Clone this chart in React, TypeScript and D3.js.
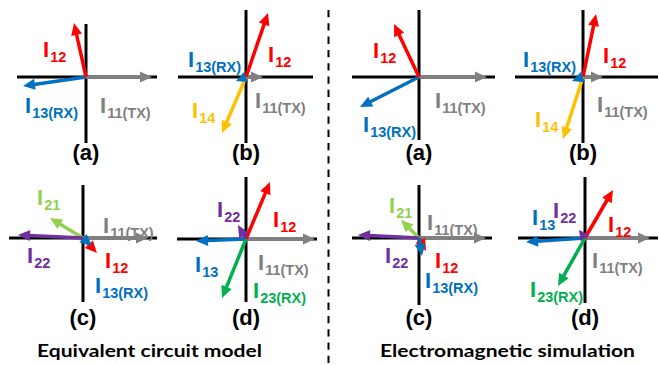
import React, { useEffect, useRef } from 'react';
import * as d3 from 'd3';

// phasor endpoints, relative to each panel origin (x right, y up), unit = 10 px
const panelIds = ['a1', 'b1', 'c1', 'd1', 'a2', 'b2', 'c2', 'd2'];
const panelLetters = ['(a)', '(b)', '(c)', '(d)', '(a)', '(b)', '(c)', '(d)'];

const vecA1 = [
  { name: 'I11', dx: 6.6, dy: 0 },
  { name: 'I13', dx: -6.3, dy: -0.9 },
  { name: 'I12', dx: -1.2, dy: 5.4 },
];
const vecB1 = [
  { name: 'I11', dx: 1.7, dy: 0 },
  { name: 'I12', dx: 2.2, dy: 6.4 },
  { name: 'I14', dx: -2.4, dy: -5.6 },
  { name: 'I13', dx: -1.0, dy: -0.4 },
];
const vecC1 = [
  { name: 'I11', dx: 6.5, dy: 0 },
  { name: 'I21', dx: -3.3, dy: 2.0 },
  { name: 'I22', dx: -6.5, dy: 0.3 },
  { name: 'I12', dx: 1.4, dy: -1.5 },
  { name: 'I13', dx: 0.9, dy: -0.8 },
];
const vecD1 = [
  { name: 'I11', dx: 6.9, dy: 0 },
  { name: 'I12', dx: 2.4, dy: 5.7 },
  { name: 'I13', dx: -5.0, dy: -0.2 },
  { name: 'I23', dx: -2.4, dy: -5.9 },
  { name: 'I22', dx: -0.8, dy: 1.4 },
];
const vecA2 = [
  { name: 'I11', dx: 6.8, dy: 0 },
  { name: 'I13', dx: -5.9, dy: -3.0 },
  { name: 'I12', dx: -2.5, dy: 5.3 },
];
const vecB2 = [
  { name: 'I11', dx: 2.0, dy: 0 },
  { name: 'I12', dx: 1.3, dy: 6.3 },
  { name: 'I14', dx: -2.0, dy: -6.2 },
  { name: 'I13', dx: -1.1, dy: -0.4 },
];
const vecC2 = [
  { name: 'I11', dx: 6.7, dy: 0 },
  { name: 'I21', dx: -1.8, dy: 1.8 },
  { name: 'I22', dx: -6.1, dy: 0.3 },
  { name: 'I12', dx: 0.7, dy: -1.3 },
  { name: 'I13', dx: 0.3, dy: -1.8 },
];
const vecD2 = [
  { name: 'I11', dx: 6.5, dy: 0 },
  { name: 'I12', dx: 2.8, dy: 4.8 },
  { name: 'I13', dx: -5.9, dy: -0.4 },
  { name: 'I23', dx: -2.7, dy: -4.8 },
  { name: 'I22', dx: -0.6, dy: 0.8 },
];
const vectors = [vecA1, vecB1, vecC1, vecD1, vecA2, vecB2, vecC2, vecD2];

// axis extents [left, right, down, up] in the same units
const axisExtents = [
  [6.9, 7.1, 6.6, 5.3],
  [6.8, 6.7, 6.6, 6.7],
  [7.4, 7.4, 6.4, 5.3],
  [6.9, 7.1, 6.3, 6.2],
  [6.7, 7.6, 6.3, 6.7],
  [6.8, 7.5, 6.6, 6.7],
  [6.7, 7.3, 6.7, 5.3],
  [6.7, 7.3, 6.5, 6.1],
];

// label texts per panel: [name, main, subscript]
const labelTexts = [
  [['I12', 'I', '12'], ['I13', 'I', '13(RX)'], ['I11', 'I', '11(TX)']],
  [['I13', 'I', '13(RX)'], ['I12', 'I', '12'], ['I11', 'I', '11(TX)'], ['I14', 'I', '14']],
  [['I21', 'I', '21'], ['I11', 'I', '11(TX)'], ['I22', 'I', '22'], ['I12', 'I', '12'], ['I13', 'I', '13(RX)']],
  [['I22', 'I', '22'], ['I12', 'I', '12'], ['I13', 'I', '13'], ['I11', 'I', '11(TX)'], ['I23', 'I', '23(RX)']],
  [['I12', 'I', '12'], ['I13', 'I', '13(RX)'], ['I11', 'I', '11(TX)']],
  [['I13', 'I', '13(RX)'], ['I12', 'I', '12'], ['I11', 'I', '11(TX)'], ['I14', 'I', '14']],
  [['I21', 'I', '21'], ['I11', 'I', '11(TX)'], ['I22', 'I', '22'], ['I12', 'I', '12'], ['I13', 'I', '13(RX)']],
  [['I13', 'I', '13'], ['I22', 'I', '22'], ['I12', 'I', '12'], ['I11', 'I', '11(TX)'], ['I23', 'I', '23(RX)']],
];

const titles = ['Equivalent circuit model', 'Electromagnetic simulation'];

// layout (pixels)
const origins = [
  [86, 77], [246, 77], [83, 238], [246, 239],
  [419, 77], [583, 77], [419, 238], [585, 238],
];
const labelPos = [
  [[-43, -20], [-61, 36], [14, 36]],
  [[-58, -10], [22, -15], [9, 31], [-54, 41]],
  [[-46, -33], [20, -5], [-56, 25], [22, 30], [12, 55]],
  [[-29, -22], [27, -12], [-51, 33], [12, 31], [7, 59]],
  [[-46, -19], [-56, 55], [16, 31]],
  [[-60, -10], [20, -14], [14, 35], [-48, 50]],
  [[-30, -25], [8, -8], [-34, 25], [16, 30], [6, 50]],
  [[-53, -13], [-32, -20], [23, -6], [7, 30], [-55, 59]],
];

const colors = {
  I11: '#808080',
  I12: '#ff0000',
  I13: '#0070c0',
  I14: '#ffc000',
  I21: '#92d050',
  I22: '#7030a0',
  I23: '#00b050',
};

const App = () => {
  const ref = useRef(null);

  useEffect(() => {
    const svg = d3.select(ref.current);
    svg.selectAll('*').remove();

    // dashed divider
    svg.append('line')
      .attr('x1', 328.5).attr('x2', 328.5)
      .attr('y1', 10).attr('y2', 365)
      .attr('stroke', '#000')
      .attr('stroke-width', 2)
      .attr('stroke-dasharray', '7.3 6');

    panelIds.forEach((id, i) => {
      const [ox, oy] = origins[i];
      const x = d3.scaleLinear().domain([0, 1]).range([ox, ox + 10]);
      const y = d3.scaleLinear().domain([0, 1]).range([oy, oy - 10]);
      const g = svg.append('g').attr('class', 'panel-' + id);
      const [l, r, dn, up] = axisExtents[i];

      g.append('line')
        .attr('x1', x(-l)).attr('x2', x(r))
        .attr('y1', y(0)).attr('y2', y(0))
        .attr('stroke', '#000').attr('stroke-width', 3);
      g.append('line')
        .attr('x1', x(0)).attr('x2', x(0))
        .attr('y1', y(-dn)).attr('y2', y(up))
        .attr('stroke', '#000').attr('stroke-width', 3);

      vectors[i].forEach((v) => {
        const x0 = x(0), y0 = y(0);
        const x1 = x(v.dx), y1 = y(v.dy);
        const len = Math.hypot(x1 - x0, y1 - y0);
        const ux = (x1 - x0) / len, uy = (y1 - y0) / len;
        const headL = Math.min(12, len);
        const headW = 5.5;
        const bx = x1 - ux * headL, by = y1 - uy * headL;
        const c = colors[v.name];
        if (len > headL + 0.5) {
          g.append('line')
            .attr('x1', x0).attr('y1', y0)
            .attr('x2', bx + ux * 1).attr('y2', by + uy * 1)
            .attr('stroke', c).attr('stroke-width', 3.5);
        }
        const pts = [
          [x1, y1],
          [bx - uy * headW, by + ux * headW],
          [bx + uy * headW, by - ux * headW],
        ];
        g.append('path')
          .attr('d', d3.line()(pts) + 'Z')
          .attr('fill', c);
      });

      labelTexts[i].forEach((lt, j) => {
        const [dxp, dyp] = labelPos[i][j];
        const t = g.append('text')
          .attr('x', ox + dxp).attr('y', oy + dyp)
          .attr('fill', colors[lt[0]])
          .attr('font-family', 'Liberation Sans, Arial, sans-serif')
          .attr('font-weight', 'bold');
        t.append('tspan').attr('font-size', 22).text(lt[1]);
        t.append('tspan').attr('font-size', 14.5).attr('dx', 1).attr('dy', 5).text(lt[2]);
      });

      g.append('text')
        .attr('x', ox).attr('y', 160 + (oy > 150 ? 165 : 0))
        .attr('text-anchor', 'middle')
        .attr('font-family', 'Liberation Sans, Arial, sans-serif')
        .attr('font-weight', 'bold')
        .attr('font-size', 22)
        .attr('fill', '#000')
        .text(panelLetters[i]);
    });

    const titleX = [37, 380];
    const titleW = [225, 255];
    titles.forEach((tt, i) => {
      svg.append('text')
        .attr('x', titleX[i]).attr('y', 357)
        .attr('font-family', 'Lato, Noto Sans, sans-serif')
        .attr('font-weight', 'bold')
        .attr('font-size', 16.5)
        .attr('textLength', titleW[i])
        .attr('lengthAdjust', 'spacingAndGlyphs')
        .attr('fill', '#000')
        .text(tt);
    });
  }, []);

  return (
    <svg ref={ref} width={659} height={365}
      style={{ position: 'absolute', left: 0, top: 0, background: '#fff' }} />
  );
};

export default App;
